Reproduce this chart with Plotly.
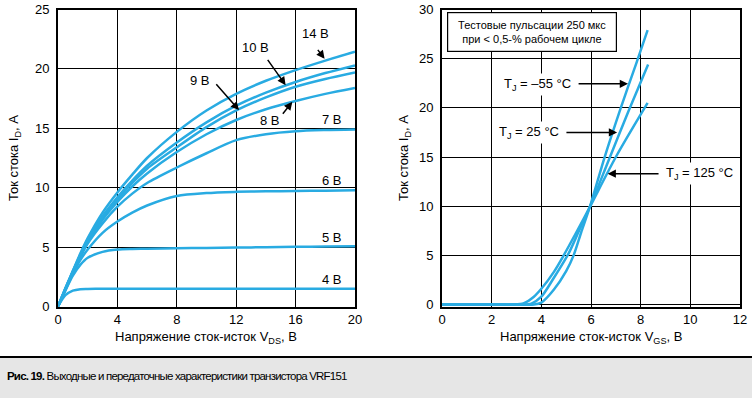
import plotly.graph_objects as go

# ---------------- data: output characteristics (left) ----------------
vds = [0, 0.5, 1, 1.5, 2, 3, 4, 5, 6, 8, 10, 12, 14, 16, 18, 20]
id_4v = [0, 0.95, 1.33, 1.46, 1.48, 1.49, 1.5, 1.5, 1.5, 1.5, 1.5, 1.5, 1.5, 1.5, 1.5, 1.5]
id_5v = [0, 1.35, 2.6, 3.5, 4.1, 4.6, 4.8, 4.85, 4.87, 4.9, 4.93, 4.96, 4.99, 5.02, 5.05, 5.08]
id_6v = [0, 1.4, 2.75, 3.9, 4.8, 6.2, 7.15, 7.9, 8.5, 9.3, 9.55, 9.65, 9.7, 9.72, 9.75, 9.78]
id_7v = [0, 1.45, 2.85, 4.15, 5.3, 7.0, 8.4, 9.5, 10.4, 11.7, 12.9, 14.0, 14.5, 14.75, 14.85, 14.9]
id_8v = [0, 1.5, 2.9, 4.25, 5.45, 7.3, 8.8, 10.1, 11.2, 13.0, 14.5, 15.7, 16.6, 17.3, 17.9, 18.4]
id_9v = [0, 1.5, 2.95, 4.3, 5.55, 7.5, 9.0, 10.4, 11.6, 13.4, 15.1, 16.5, 17.6, 18.5, 19.15, 19.7]
id_10v = [0, 1.5, 2.95, 4.35, 5.6, 7.6, 9.2, 10.6, 11.85, 13.8, 15.5, 16.9, 18.0, 18.9, 19.65, 20.3]
id_14v = [0, 1.55, 3.0, 4.45, 5.75, 7.9, 9.6, 11.1, 12.5, 14.7, 16.5, 17.9, 19.0, 19.9, 20.7, 21.45]
out_series = [id_4v, id_5v, id_6v, id_7v, id_8v, id_9v, id_10v, id_14v]
out_names = ["4 В", "5 В", "6 В", "7 В", "8 В", "9 В", "10 В", "14 В"]

# ---------------- data: transfer characteristics (right) ----------------
vgs_m55 = [0, 1, 2, 3, 3.7, 4.0, 4.5, 5.0, 5.3, 5.6, 5.95, 6.55, 7.2, 7.82, 8.28]
id_m55 = [0, 0, 0, 0, 0, 0.2, 1.5, 3.4, 5.0, 7.3, 9.9, 15.0, 20.0, 24.5, 27.9]
vgs_25 = [0, 1, 2, 3, 3.3, 3.6, 4.0, 4.5, 5.1, 5.5, 5.95, 6.7, 7.5, 8.3]
id_25 = [0, 0, 0, 0, 0, 0.1, 0.8, 2.7, 5.2, 7.4, 9.9, 14.6, 19.6, 24.4]
vgs_125 = [0, 1, 2, 2.9, 3.3, 3.7, 4.0, 4.5, 4.9, 5.4, 5.95, 7.0, 8.28]
id_125 = [0, 0, 0, 0, 0.15, 0.8, 1.6, 3.3, 5.0, 7.3, 9.9, 15.0, 20.5]

# tick values
x1_ticks = [0, 4, 8, 12, 16, 20]
y1_ticks = [0, 5, 10, 15, 20, 25]
x2_ticks = [0, 2, 4, 6, 8, 10, 12]
y2_ticks = [0, 5, 10, 15, 20, 25, 30]

# labels
curve_labels = [  # text, x, y
    ("14 В", 17.31, 23.02),
    ("10 В", 13.27, 21.84),
    ("9 В", 9.56, 19.06),
    ("8 В", 14.28, 15.62),
    ("7 В", 18.43, 15.74),
    ("6 В", 18.43, 10.62),
    ("5 В", 18.43, 5.79),
    ("4 В", 18.43, 2.28),
]
curve_arrows = [  # head x, head y, tail x, tail y
    (17.95, 20.85, 17.42, 21.73),
    (15.33, 18.63, 14.05, 20.89),
    (12.19, 16.53, 10.57, 18.83),
    (15.78, 17.23, 15.06, 16.10),
]
temp_labels = [  # text, x, y
    ("T<sub>J</sub> = –55 °C", 3.83, 22.42),
    ("T<sub>J</sub> = 25 °C", 3.50, 17.46),
    ("T<sub>J</sub> = 125 °C", 10.35, 13.31),
]
temp_arrows = [
    (7.49, 22.45, 5.44, 22.45),
    (7.05, 17.50, 4.95, 17.50),
    (6.67, 13.31, 8.78, 13.31),
]
note_text = "Тестовые пульсации 250 мкс<br>при &lt; 0,5-% рабочем цикле"
caption_bold = "Рис. 19."
caption_rest = "Выходные и передаточные характеристики транзистора VRF151"
x1_title = "Напряжение сток-исток V<sub>DS</sub>, В"
x2_title = "Напряжение сток-исток V<sub>GS</sub>, В"
y_title = "Ток стока I<sub>D</sub>, А"

BLUE = "#29abe2"
FONT = "Liberation Sans, Arial, Helvetica, sans-serif"
W, H = 752, 398

fig = go.Figure()
for name, ys in zip(out_names, out_series):
    fig.add_trace(go.Scatter(x=vds, y=ys, mode="lines", name=name,
                             line=dict(color=BLUE, width=2.5, shape="spline", smoothing=0.8),
                             xaxis="x", yaxis="y", showlegend=False, hoverinfo="skip"))
for name, xs, ys in [("-55", vgs_m55, id_m55), ("25", vgs_25, id_25), ("125", vgs_125, id_125)]:
    fig.add_trace(go.Scatter(x=xs, y=ys, mode="lines", name=name,
                             line=dict(color=BLUE, width=2.5, shape="spline", smoothing=0.8),
                             xaxis="x2", yaxis="y2", showlegend=False, hoverinfo="skip"))

ann = []
for t, x, y in curve_labels:
    ann.append(dict(text=t, x=x, y=y, xref="x", yref="y", showarrow=False,
                    font=dict(size=13, color="black", family=FONT)))
for hx, hy, tx, ty in curve_arrows:
    ann.append(dict(text="", x=hx, y=hy, ax=tx, ay=ty, xref="x", yref="y", axref="x", ayref="y",
                    showarrow=True, arrowhead=2, arrowsize=1.1, arrowwidth=1.5, arrowcolor="black",
                    standoff=0, startstandoff=0))
for t, x, y in temp_labels:
    ann.append(dict(text=t, x=x, y=y, xref="x2", yref="y2", showarrow=False, bgcolor="white",
                    borderpad=2, font=dict(size=13, color="black", family=FONT)))
for hx, hy, tx, ty in temp_arrows:
    ann.append(dict(text="", x=hx, y=hy, ax=tx, ay=ty, xref="x2", yref="y2", axref="x2", ayref="y2",
                    showarrow=True, arrowhead=2, arrowsize=1.1, arrowwidth=1.5, arrowcolor="black",
                    standoff=0, startstandoff=0))
ann.append(dict(text=note_text, x=3.62, y=27.7, xref="x2", yref="y2", showarrow=False,
                bgcolor="white", bordercolor="black", borderwidth=1.2, borderpad=4,
                width=160, height=30, font=dict(size=11, color="black", family=FONT)))
# axis titles
title_font = dict(size=13, color="black", family=FONT)
ann.append(dict(text=x1_title, x=206 / W, y=1 - 337 / H, xref="paper", yref="paper",
                xanchor="center", yanchor="middle", showarrow=False, font=title_font))
ann.append(dict(text=x2_title, x=591 / W, y=1 - 337 / H, xref="paper", yref="paper",
                xanchor="center", yanchor="middle", showarrow=False, font=title_font))
ann.append(dict(text=y_title, x=14 / W, y=1 - 158 / H, xref="paper", yref="paper",
                xanchor="center", yanchor="middle", textangle=-90, showarrow=False, font=title_font))
ann.append(dict(text=y_title, x=404 / W, y=1 - 158 / H, xref="paper", yref="paper",
                xanchor="center", yanchor="middle", textangle=-90, showarrow=False, font=title_font))
# caption
cap_style = "letter-spacing:-0.8px"
caption = f'<span style="{cap_style}"><b>{caption_bold}</b> {caption_rest}</span>'
ann.append(dict(text=caption, x=5 / W, y=1 - 376 / H, xref="paper", yref="paper",
                xanchor="left", yanchor="middle", showarrow=False,
                font=dict(size=11.5, color="black", family="Liberation Sans, Arial, sans-serif")))

axis_common = dict(showline=True, linecolor="black", linewidth=2, mirror=True,
                   showgrid=True, gridcolor="black", gridwidth=1, zeroline=False,
                   ticks="", tickfont=dict(size=13, color="black", family=FONT),
                   fixedrange=True, automargin=False)

ytop = 1 - 9.5 / H
ybot = 1 - 306.5 / H
fig.update_layout(
    width=W, height=H, autosize=False,
    margin=dict(l=0, r=0, t=0, b=0),
    paper_bgcolor="white", plot_bgcolor="white",
    font=dict(family=FONT, color="black"),
    xaxis=dict(domain=[58 / W, 355 / W], range=[0, 20], tickvals=x1_ticks,
               anchor="y", **axis_common),
    yaxis=dict(domain=[ybot, ytop], range=[0, 25], tickvals=y1_ticks,
               ticklabelstandoff=4, anchor="x", **axis_common),
    xaxis2=dict(domain=[442 / W, 740 / W], range=[0, 12], tickvals=x2_ticks,
                anchor="y2", **axis_common),
    yaxis2=dict(domain=[ybot, ytop], range=[-0.2, 30], tickvals=y2_ticks,
                ticklabelstandoff=4, anchor="x2", **axis_common),
    annotations=ann,
    shapes=[
        dict(type="rect", xref="paper", yref="paper", x0=0, x1=1, y0=0, y1=1 - 358 / H,
             fillcolor="#e6e6e6", line=dict(width=0), layer="below"),
        dict(type="line", xref="paper", yref="paper", x0=0, x1=1, y0=1 - 357 / H, y1=1 - 357 / H,
             line=dict(color="black", width=2)),
    ],
)

fig.write_html("out.html", config={"displayModeBar": False},
               post_script="document.body.style.margin='0';")
